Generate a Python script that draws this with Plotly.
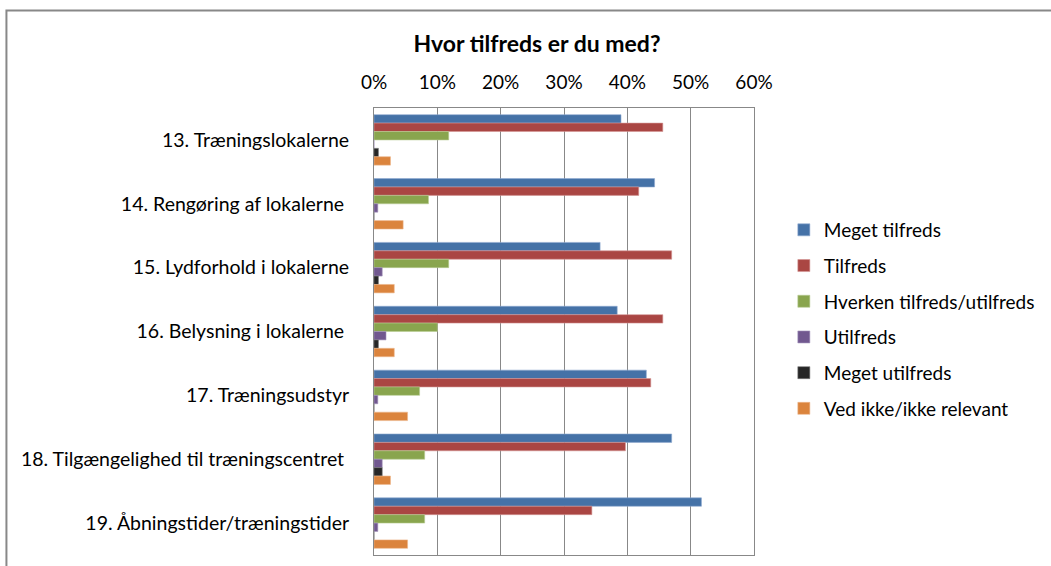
import plotly.graph_objects as go

categories = [
    "13. Træningslokalerne",
    "14. Rengøring af lokalerne\u00a0",
    "15. Lydforhold i lokalerne",
    "16. Belysning i lokalerne\u00a0",
    "17. Træningsudstyr",
    "18. Tilgængelighed til træningscentret\u00a0",
    "19. Åbningstider/træningstider",
]
series_names = [
    "Meget tilfreds",
    "Tilfreds",
    "Hverken tilfreds/utilfreds",
    "Utilfreds",
    "Meget utilfreds",
    "Ved ikke/ikke relevant",
]
meget_tilfreds = [0.390, 0.443, 0.357, 0.384, 0.430, 0.470, 0.517]
tilfreds = [0.456, 0.418, 0.470, 0.456, 0.437, 0.397, 0.344]
hverken = [0.118, 0.086, 0.118, 0.100, 0.072, 0.080, 0.080]
utilfreds = [0.0, 0.006, 0.013, 0.019, 0.006, 0.013, 0.006]
meget_utilfreds = [0.007, 0.0, 0.007, 0.007, 0.0, 0.013, 0.0]
ved_ikke = [0.026, 0.046, 0.032, 0.032, 0.053, 0.026, 0.053]
series_values = [meget_tilfreds, tilfreds, hverken, utilfreds, meget_utilfreds, ved_ikke]
colors = ["#4572A7", "#AA4643", "#89A54E", "#71588F", "#262626", "#DB843D"]
line_colors = ["#8FAAD0", "#D49593", "#B8CC93", "#A595BC", "#777777", "#EDB68A"]
tick_vals = [0, 0.1, 0.2, 0.3, 0.4, 0.5, 0.6]
tick_text = ["0%", "10%", "20%", "30%", "40%", "50%", "60%"]

FONT = "Lato"
fig = go.Figure()
for i, (name, vals) in enumerate(zip(series_names, series_values)):
    fig.add_trace(go.Bar(
        y=categories, x=vals, name=name, orientation="h",
        marker=dict(color=colors[i], line=dict(color=line_colors[i], width=0.6)),
        legendgroup=f"g{i}",
    ))

W, H = 1051, 566
L, R, T, B = 374, 756, 108, 555

def px_x(p):
    return (p - L) / (R - L)

def px_y(p):
    return (B - p) / (B - T)

fig.update_layout(
    width=W, height=H,
    margin=dict(l=L, r=W - R, t=T, b=H - B, pad=0),
    paper_bgcolor="white", plot_bgcolor="white",
    barmode="group", bargap=0.21, bargroupgap=0,
    font=dict(family=FONT, size=19, color="#000000"),
    title=dict(text="<b>Hvor tilfreds er du med?</b>", x=537 / W, xanchor="center",
               y=1 - 44 / H, yanchor="middle", font=dict(family=FONT, size=23, color="#000")),
    xaxis=dict(side="top", range=[0, 0.6], tickvals=tick_vals, ticktext=tick_text,
               showgrid=True, gridcolor="#888888", gridwidth=1, zeroline=False,
               showline=True, linecolor="#888888", linewidth=1, mirror=True,
               ticks="", ticklabelstandoff=10, tickfont=dict(size=19, family=FONT)),
    yaxis=dict(autorange="reversed", showline=True, linecolor="#888888", linewidth=1,
               mirror=True, ticks="", ticklabelstandoff=20, tickfont=dict(size=19.5, family=FONT),
               showgrid=False),
    legend=dict(x=px_x(786), y=px_y(211), xanchor="left", yanchor="top",
                traceorder="grouped", tracegroupgap=8, font=dict(size=19, family=FONT),
                bgcolor="rgba(0,0,0,0)"),
    shapes=[dict(type="rect", xref="paper", yref="paper",
                 x0=px_x(4.5), x1=px_x(1070), y0=px_y(580), y1=px_y(10.5),
                 line=dict(color="#888888", width=2), layer="below")],
)

fig.write_html("out.html", config={"displayModeBar": False},
               post_script="document.body.style.margin='0px';")
